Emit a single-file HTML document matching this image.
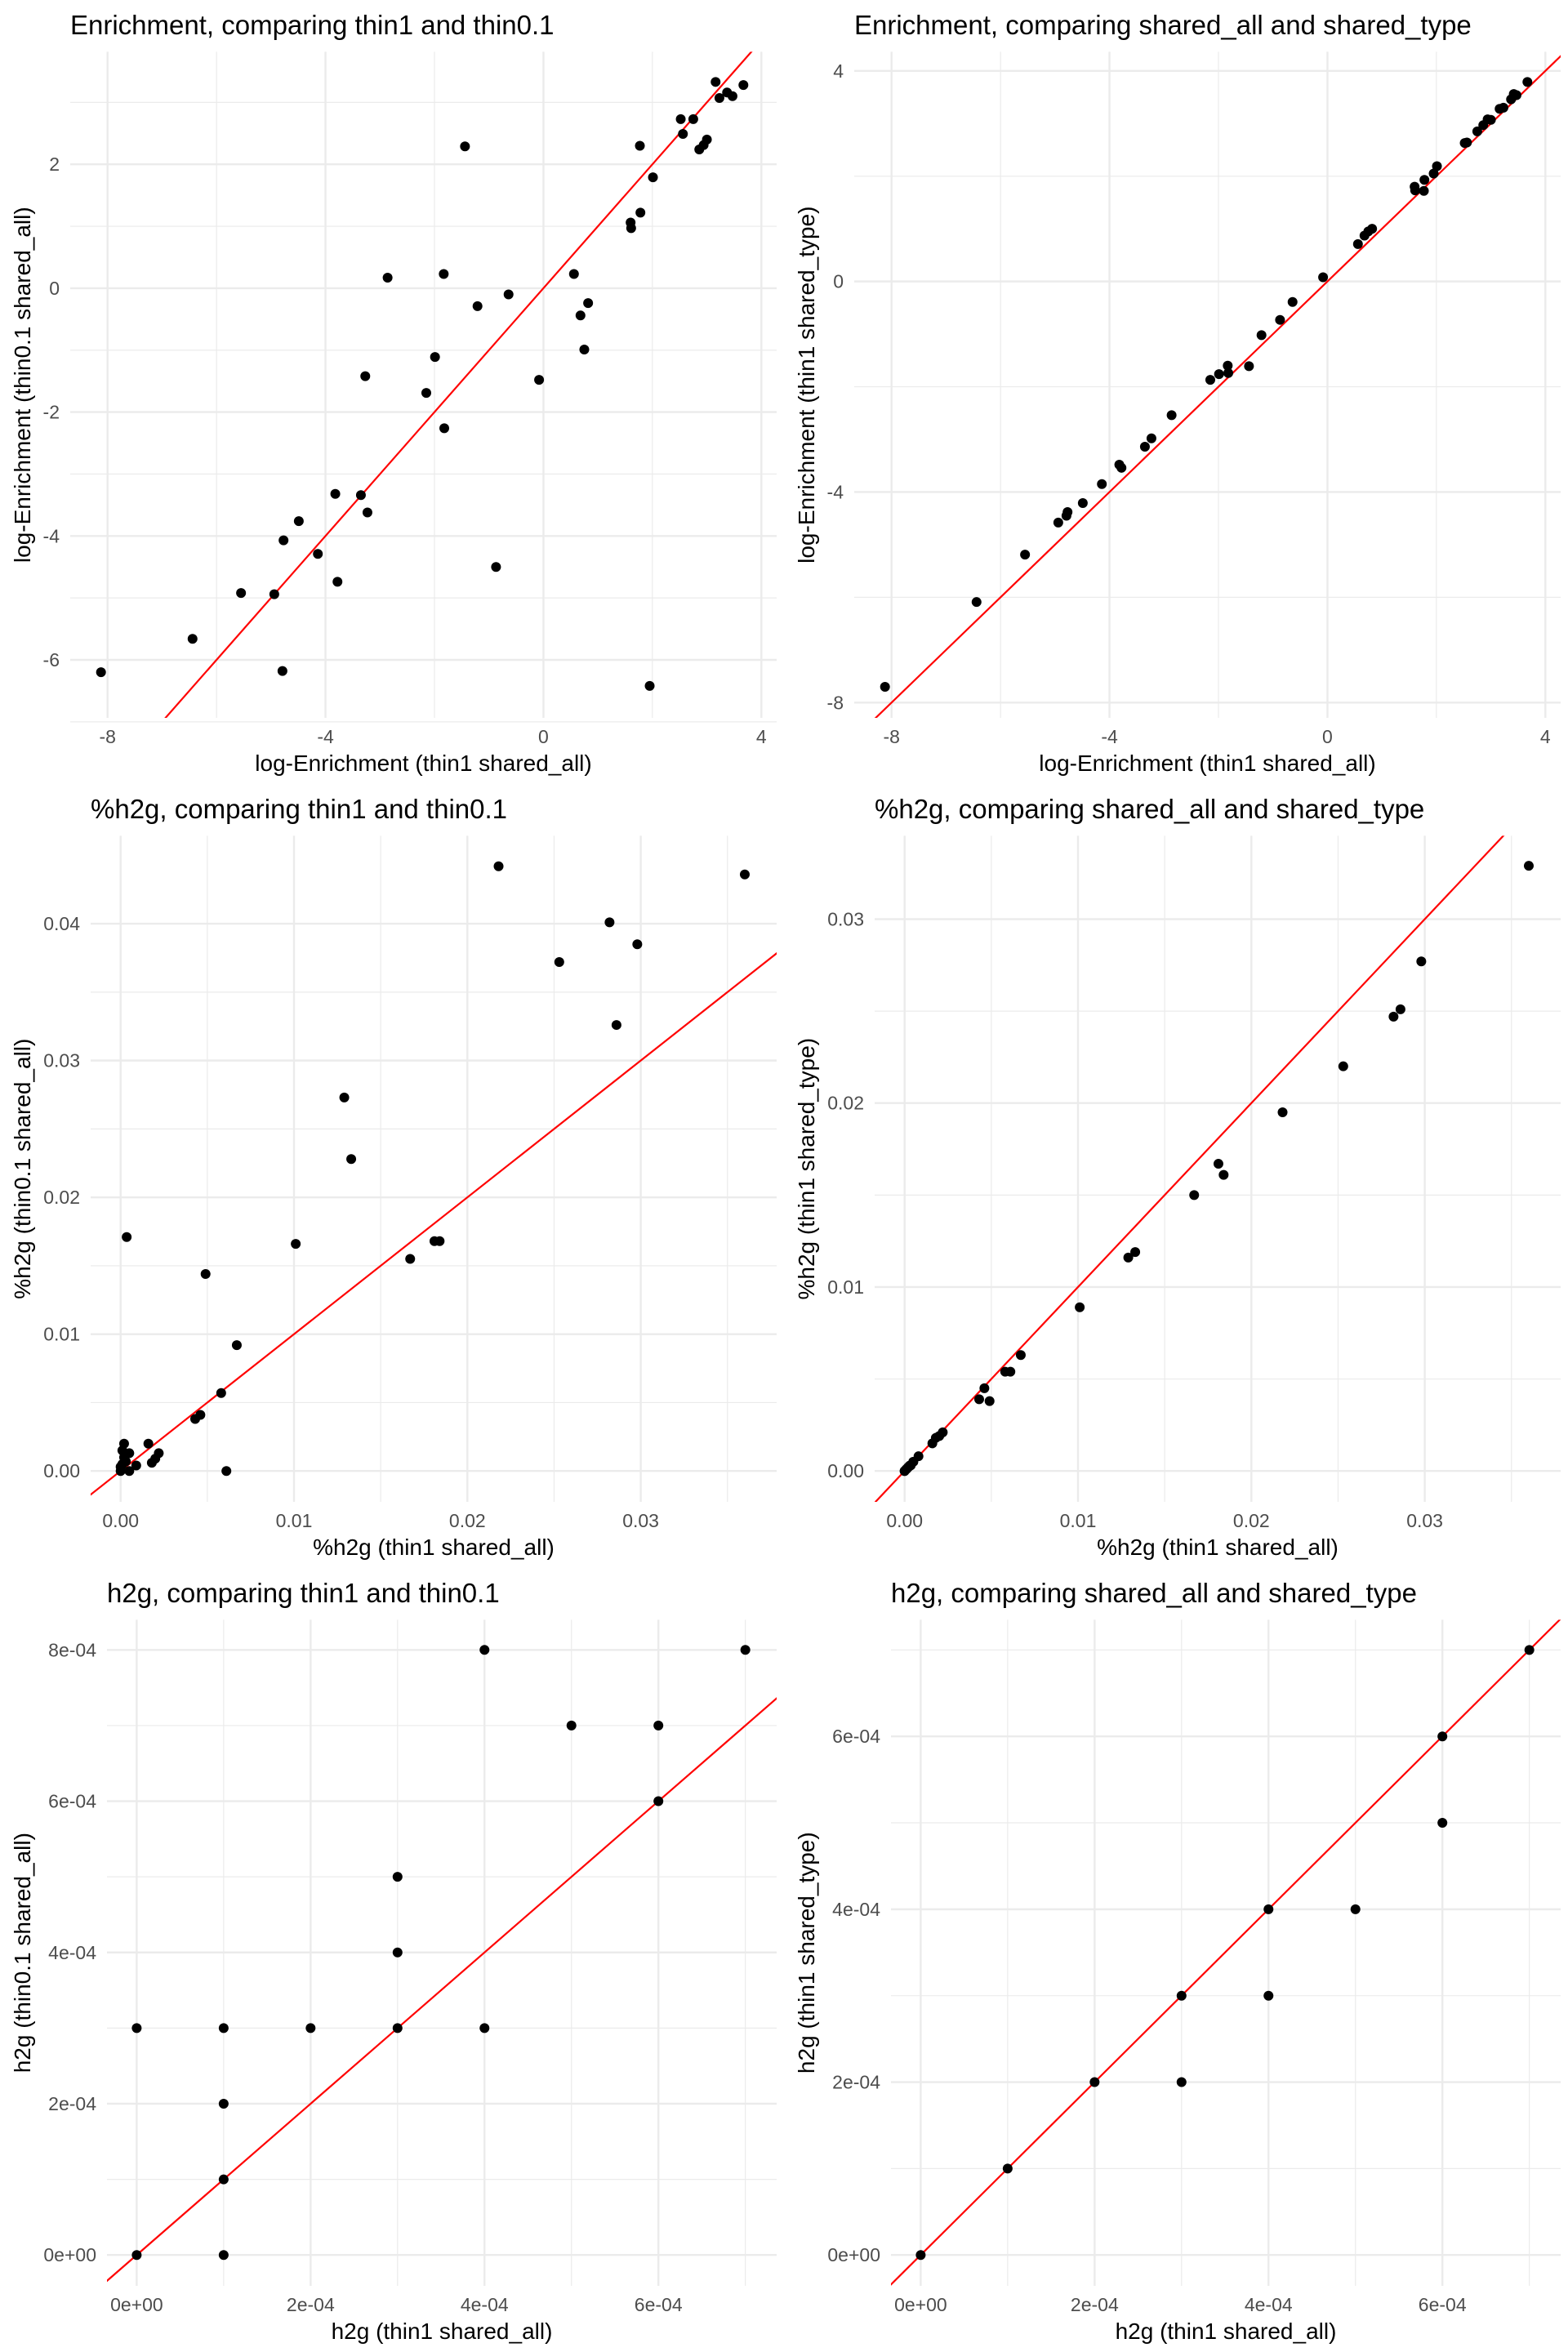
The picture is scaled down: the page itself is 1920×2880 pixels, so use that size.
<!DOCTYPE html>
<html><head><meta charset="utf-8"><style>
html,body{margin:0;padding:0;background:#fff;width:1920px;height:2880px;overflow:hidden;}
svg{display:block;font-family:"Liberation Sans",Arial,sans-serif;}
</style></head><body>
<svg id="chart" width="1920" height="2880" viewBox="0 0 1920 2880" xmlns="http://www.w3.org/2000/svg"></svg>
<script>
// ---- Panel 1 data: log-Enrichment thin1 shared_all vs thin0.1 shared_all
const p1X = [-8.12,-6.44,-5.55,-4.94,-4.77,-4.79,-4.49,-4.14,-3.82,-3.78,-3.35,-3.23,-3.27,-2.86,-2.15,-1.99,-1.83,-1.82,-1.44,-1.21,-0.87,-0.64,-0.08,0.56,0.68,0.75,0.82,1.60,1.61,1.77,1.78,1.95,2.01,2.52,2.56,2.75,2.86,2.94,3.00,3.16,3.23,3.37,3.47,3.67];
const p1Y = [-6.20,-5.66,-4.92,-4.94,-4.07,-6.18,-3.76,-4.29,-3.32,-4.74,-3.34,-3.62,-1.42,0.17,-1.69,-1.11,0.23,-2.26,2.29,-0.29,-4.50,-0.10,-1.48,0.23,-0.44,-0.99,-0.24,1.06,0.97,2.30,1.22,-6.42,1.79,2.73,2.49,2.73,2.24,2.31,2.40,3.33,3.07,3.16,3.10,3.28];
// ---- Panel 2 data: log-Enrichment shared_all vs shared_type
const p2X = [-8.12,-6.44,-5.55,-4.94,-4.79,-4.77,-4.49,-4.14,-3.82,-3.78,-3.35,-3.23,-2.86,-2.15,-1.99,-1.83,-1.82,-1.44,-1.21,-0.87,-0.64,-0.08,0.56,0.68,0.75,0.82,1.60,1.61,1.77,1.78,1.95,2.01,2.52,2.56,2.75,2.86,2.94,3.00,3.16,3.23,3.37,3.42,3.47,3.67];
const p2Y = [-7.70,-6.09,-5.19,-4.58,-4.45,-4.38,-4.21,-3.85,-3.48,-3.54,-3.14,-2.98,-2.54,-1.87,-1.76,-1.60,-1.74,-1.61,-1.02,-0.73,-0.39,0.08,0.71,0.87,0.95,1.00,1.80,1.73,1.72,1.93,2.05,2.19,2.63,2.64,2.85,2.97,3.08,3.07,3.28,3.30,3.46,3.56,3.54,3.79];
// ---- Panel 3 data: %h2g thin1 vs thin0.1
const p3X = [0,0.0000,0.0001,0.0002,0.0001,0.0002,0.0005,0.0005,0.0009,0.0003,0.00035,0.0016,0.0018,0.0020,0.0022,0.0043,0.0046,0.0049,0.0058,0.0061,0.0067,0.0101,0.0129,0.0133,0.0167,0.0181,0.0184,0.0218,0.0253,0.0282,0.0286,0.0298,0.0360];
const p3Y = [0,0.0003,0.0005,0.0010,0.0015,0.0020,0.0000,0.0013,0.0004,0.0007,0.0171,0.0020,0.0006,0.0009,0.0013,0.0038,0.0041,0.0144,0.0057,0.0000,0.0092,0.0166,0.0273,0.0228,0.0155,0.0168,0.0168,0.0442,0.0372,0.0401,0.0326,0.0385,0.0436];
// ---- Panel 4 data: %h2g shared_all vs shared_type
const p4X = [0,0.0000,0.0001,0.0002,0.0001,0.0002,0.0005,0.0005,0.0008,0.0003,0.00035,0.0016,0.0018,0.0020,0.0022,0.0043,0.0046,0.0049,0.0058,0.0061,0.0067,0.0101,0.0129,0.0133,0.0167,0.0181,0.0184,0.0218,0.0253,0.0282,0.0286,0.0298,0.0360];
const p4Y = [0,0.0000,0.0001,0.0002,0.0001,0.0002,0.0005,0.0005,0.0008,0.0003,0.0003,0.0015,0.0018,0.0019,0.0021,0.0039,0.0045,0.0038,0.0054,0.0054,0.0063,0.0089,0.0116,0.0119,0.0150,0.0167,0.0161,0.0195,0.0220,0.0247,0.0251,0.0277,0.0329];
// ---- Panel 5 data: h2g thin1 vs thin0.1
const p5X = [0,0,1e-4,1e-4,1e-4,1e-4,2e-4,3e-4,3e-4,3e-4,4e-4,4e-4,5e-4,6e-4,6e-4,7e-4];
const p5Y = [0,3e-4,3e-4,2e-4,1e-4,0,3e-4,5e-4,4e-4,3e-4,8e-4,3e-4,7e-4,7e-4,6e-4,8e-4];
// ---- Panel 6 data: h2g shared_all vs shared_type
const p6X = [0,1e-4,2e-4,3e-4,3e-4,4e-4,4e-4,5e-4,6e-4,6e-4,7e-4];
const p6Y = [0,1e-4,2e-4,3e-4,2e-4,4e-4,3e-4,4e-4,6e-4,5e-4,7e-4];
// ---- tick labels
const enrichXTicks = [-8,-4,0,4];
const enrichXTickLabels = ["-8","-4","0","4"];
const p1YTicks = [-6,-4,-2,0,2];
const p1YTickLabels = ["-6","-4","-2","0","2"];
const p2YTicks = [-8,-4,0,4];
const p2YTickLabels = ["-8","-4","0","4"];
const pctXTicks = [0,0.01,0.02,0.03];
const pctXTickLabels = ["0.00","0.01","0.02","0.03"];
const p3YTicks = [0,0.01,0.02,0.03,0.04];
const p3YTickLabels = ["0.00","0.01","0.02","0.03","0.04"];
const p4YTicks = [0,0.01,0.02,0.03];
const p4YTickLabels = ["0.00","0.01","0.02","0.03"];
const h2gXTicks = [0,2e-4,4e-4,6e-4];
const h2gXTickLabels = ["0e+00","2e-04","4e-04","6e-04"];
const p5YTicks = [0,2e-4,4e-4,6e-4,8e-4];
const p5YTickLabels = ["0e+00","2e-04","4e-04","6e-04","8e-04"];
const p6YTicks = [0,2e-4,4e-4,6e-4];
const p6YTickLabels = ["0e+00","2e-04","4e-04","6e-04"];

const NS = "http://www.w3.org/2000/svg";
const svg = document.getElementById('chart');
function mk(tag, attrs, parent){
  const e = document.createElementNS(NS, tag);
  for (const k in attrs) e.setAttribute(k, attrs[k]);
  parent.appendChild(e); return e;
}
const panels = [
  {id:'enrichment-thin',col:0,row:0,left:86,title:"Enrichment, comparing thin1 and thin0.1",xt:"log-Enrichment (thin1 shared_all)",yt:"log-Enrichment (thin0.1 shared_all)",
   xa:[-8,131.7,4,932.3], ya:[2,201.2,-6,808], xs:p1X, ys:p1Y, xT:enrichXTicks, xL:enrichXTickLabels, yT:p1YTicks, yL:p1YTickLabels, xMin:[-6,-2,2], yMin:[-7,-5,-3,-1,1,3]},
  {id:'enrichment-shared',col:1,row:0,left:86,title:"Enrichment, comparing shared_all and shared_type",xt:"log-Enrichment (thin1 shared_all)",yt:"log-Enrichment (thin1 shared_type)",
   xa:[-8,131.7,4,932.3], ya:[4,86.8,-8,860.3], xs:p2X, ys:p2Y, xT:enrichXTicks, xL:enrichXTickLabels, yT:p2YTicks, yL:p2YTickLabels, xMin:[-6,-2,2], yMin:[-6,-2,2]},
  {id:'pct-h2g-thin',col:0,row:1,left:111,title:"%h2g, comparing thin1 and thin0.1",xt:"%h2g (thin1 shared_all)",yt:"%h2g (thin0.1 shared_all)",
   xa:[0,147.7,0.03,784.6], ya:[0,841.2,0.04,171.1], xs:p3X, ys:p3Y, xT:pctXTicks, xL:pctXTickLabels, yT:p3YTicks, yL:p3YTickLabels, xMin:[0.005,0.015,0.025,0.035], yMin:[0.005,0.015,0.025,0.035]},
  {id:'pct-h2g-shared',col:1,row:1,left:111,title:"%h2g, comparing shared_all and shared_type",xt:"%h2g (thin1 shared_all)",yt:"%h2g (thin1 shared_type)",
   xa:[0,147.7,0.03,784.6], ya:[0,841.2,0.03,165.5], xs:p4X, ys:p4Y, xT:pctXTicks, xL:pctXTickLabels, yT:p4YTicks, yL:p4YTickLabels, xMin:[0.005,0.015,0.025,0.035], yMin:[0.005,0.015,0.025]},
  {id:'h2g-thin',col:0,row:2,left:131,title:"h2g, comparing thin1 and thin0.1",xt:"h2g (thin1 shared_all)",yt:"h2g (thin0.1 shared_all)",
   xa:[0,167.4,6e-4,806.2], ya:[0,841.2,8e-4,100.3], xs:p5X, ys:p5Y, xT:h2gXTicks, xL:h2gXTickLabels, yT:p5YTicks, yL:p5YTickLabels, xMin:[1e-4,3e-4,5e-4,7e-4], yMin:[1e-4,3e-4,5e-4,7e-4]},
  {id:'h2g-shared',col:1,row:2,left:131,title:"h2g, comparing shared_all and shared_type",xt:"h2g (thin1 shared_all)",yt:"h2g (thin1 shared_type)",
   xa:[0,167.4,6e-4,806.2], ya:[0,841.2,6e-4,206.2], xs:p6X, ys:p6Y, xT:h2gXTicks, xL:h2gXTickLabels, yT:p6YTicks, yL:p6YTickLabels, xMin:[1e-4,3e-4,5e-4,7e-4], yMin:[1e-4,3e-4,5e-4,7e-4]}
];
const TOP=63.4, BOT=879, RIGHT=951;
panels.forEach(p=>{
  const ox=p.col*960, oy=p.row*960;
  const g = mk('g',{transform:`translate(${ox},${oy})`},svg);
  
  
  const sx = v => p.xa[1] + (v-p.xa[0])*(p.xa[3]-p.xa[1])/(p.xa[2]-p.xa[0]);
  const sy = v => p.ya[1] + (v-p.ya[0])*(p.ya[3]-p.ya[1])/(p.ya[2]-p.ya[0]);
  const L=p.left;
  const grid = mk('g',{},g);
  
  
  p.xMin.forEach(v=>mk('line',{x1:sx(v),x2:sx(v),y1:TOP,y2:BOT,stroke:'#ebebeb','stroke-width':1.2},grid));
  p.yMin.forEach(v=>mk('line',{x1:L,x2:RIGHT,y1:sy(v),y2:sy(v),stroke:'#ebebeb','stroke-width':1.2},grid));
  p.xT.forEach(v=>mk('line',{x1:sx(v),x2:sx(v),y1:TOP,y2:BOT,stroke:'#ebebeb','stroke-width':2.4},grid));
  p.yT.forEach(v=>mk('line',{x1:L,x2:RIGHT,y1:sy(v),y2:sy(v),stroke:'#ebebeb','stroke-width':2.4},grid));
  p.xT.forEach((v,i)=>{
    const t=mk('text',{x:sx(v),y:910,'text-anchor':'middle','font-size':23,fill:'#4d4d4d'},g);
    
    
    t.textContent=p.xL[i];
  });
  p.yT.forEach((v,i)=>{
    const t=mk('text',{x:L-13,y:sy(v)+8,'text-anchor':'end','font-size':23,fill:'#4d4d4d'},g);
    
    
    t.textContent=p.yL[i];
  });
  const cid='clip-'+p.id;
  const cp=mk('clipPath',{id:cid},g);
  mk('rect',{x:L,y:TOP,width:RIGHT-L,height:BOT-TOP},cp);
  const plot=mk('g',{'clip-path':`url(#${cid})`},g);
  const x0=p.xa[0]-(p.xa[2]-p.xa[0])*2, x1=p.xa[2]+(p.xa[2]-p.xa[0])*2;
  const ln=mk('line',{x1:sx(x0),y1:sy(x0),x2:sx(x1),y2:sy(x1),stroke:'#ff0000','stroke-width':2.2},plot);
  
  
  p.xs.forEach((xv,i)=>{
    const c=mk('circle',{cx:sx(xv),cy:sy(p.ys[i]),r:6,fill:'#000'},plot);
    
    
  });
  const tt=mk('text',{x:L,y:42,'font-size':33,fill:'#000'},g);
  
  
  tt.textContent=p.title;
  const xt=mk('text',{x:(L+RIGHT)/2,y:944,'text-anchor':'middle','font-size':28,fill:'#000'},g);
  
  
  xt.textContent=p.xt;
  const cy=(TOP+BOT)/2;
  const yt=mk('text',{x:0,y:0,'text-anchor':'middle','font-size':28,fill:'#000',transform:`translate(37,${cy}) rotate(-90)`},g);
  
  
  yt.textContent=p.yt;
});
</script>
</body></html>
